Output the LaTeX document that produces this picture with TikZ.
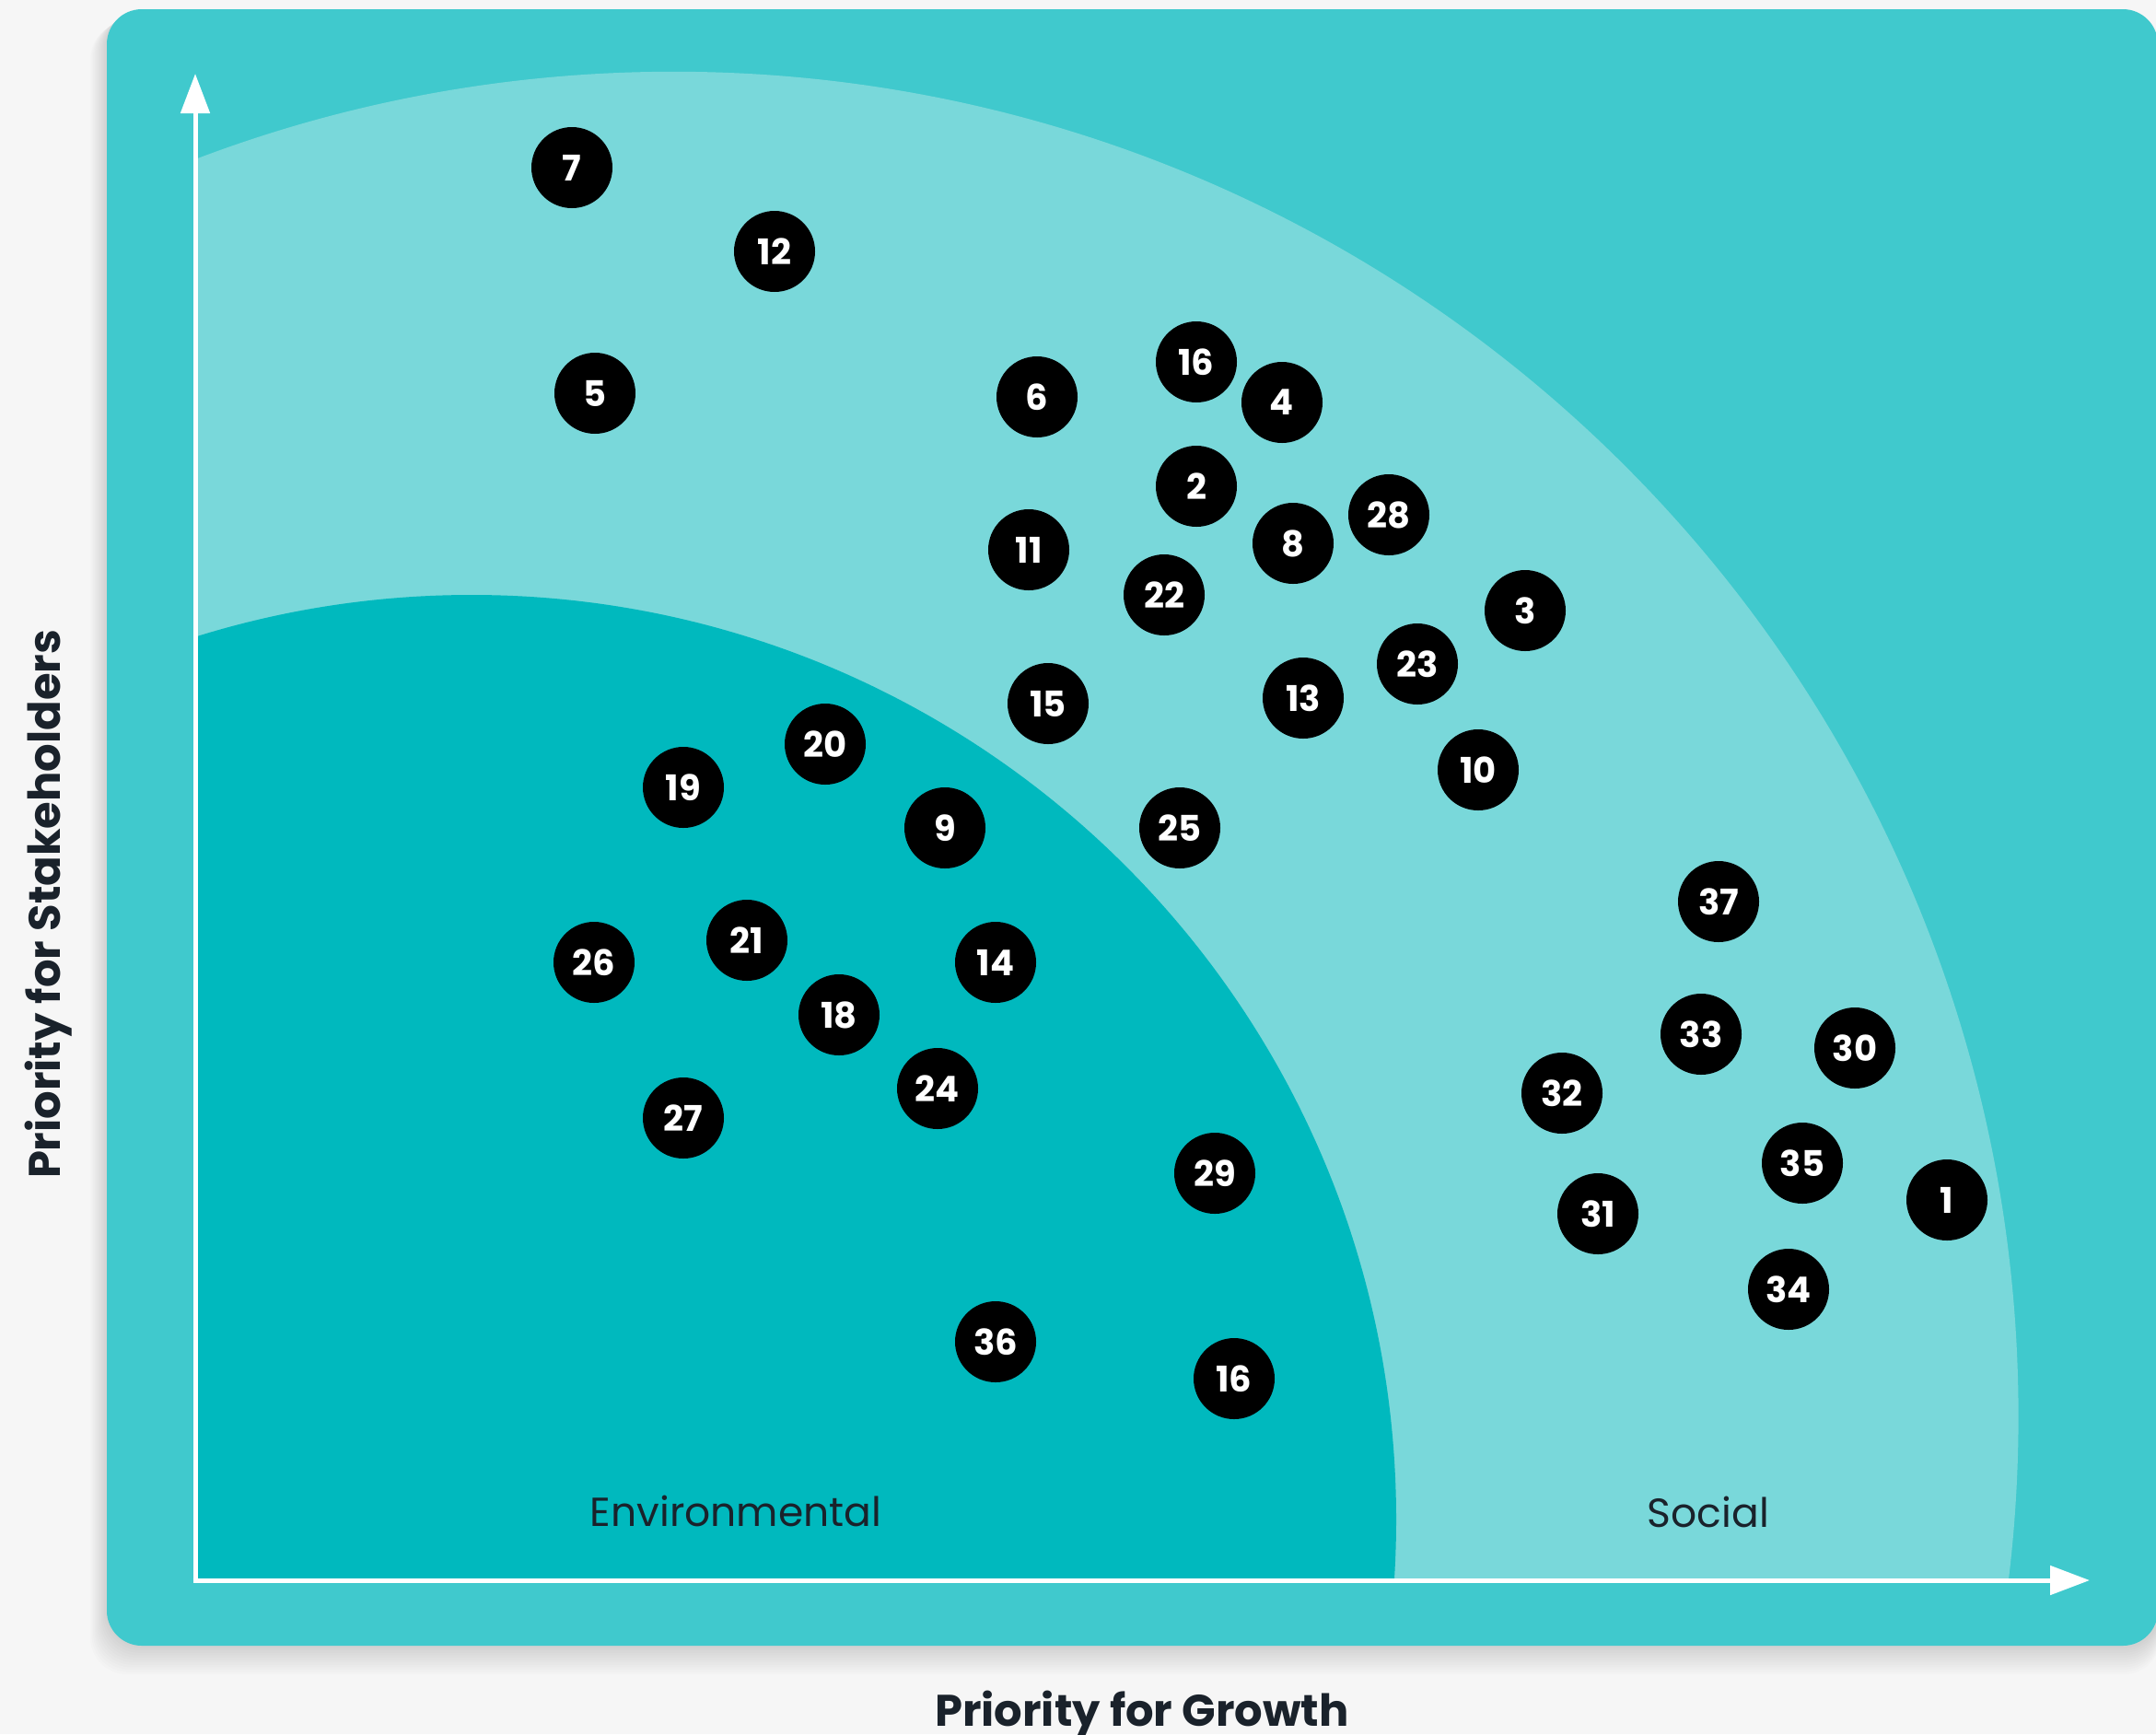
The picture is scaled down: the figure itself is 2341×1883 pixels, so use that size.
\documentclass[tikz,border=0pt]{standalone}
\usepackage{fontspec}
\setmainfont{Poppins}
\usetikzlibrary{arrows.meta}
\definecolor{bgc}{HTML}{F6F6F6}
\definecolor{outerc}{HTML}{40C9CD}
\definecolor{lightc}{HTML}{79D8DA}
\definecolor{darkc}{HTML}{00B9BE}
\definecolor{inkc}{HTML}{1A222B}
\tikzset{
  dot/.style={circle, fill=black, minimum size=88pt, inner sep=0pt, text=white,
    font=\fontsize{38.5}{38.5}\selectfont\bfseries},
  zonelabel/.style={text=inkc, font=\fontsize{44}{44}\selectfont, anchor=base, inner sep=0pt},
  axislabel/.style={text=inkc, font=\fontsize{48}{48}\selectfont\bfseries, anchor=base, inner sep=0pt},
  axisline/.style={draw=white, line width=5pt, -{Triangle[length=43pt,width=31pt]}},
}
\begin{document}
\begin{tikzpicture}[x=1pt,y=-1pt]
\useasboundingbox (0,0) rectangle (2341,1883);
\fill[bgc] (0,0) rectangle (2341,1883);
% soft shadow
\foreach \k in {1,...,12}{
  \fill[black, opacity=0.012, rounded corners=40pt]
    (116-\k*1.5, 10+\k*1.2) rectangle (2346, 1787+\k*2.6);
}
% board
\fill[outerc, rounded corners=38pt] (116,10) rectangle (2343,1787);
% zones
\begin{scope}
  \clip (212,0) rectangle (2341,1716);
  \fill[lightc] (731.6,1537.8) circle[radius=1460pt];
  \fill[darkc] (512,1650) circle[radius=1004pt];
\end{scope}
% axes
\coordinate (origin) at (212,1718);
\coordinate (ytip) at (212,80);
\coordinate (xtip) at (2269,1716);
\coordinate (xstart) at (209.5,1716);
\draw[axisline] (origin) -- (ytip);
\draw[axisline] (xstart) -- (xtip);
% labels
\node[zonelabel] (env) at (799,1657) {Environmental};
\node[zonelabel] (soc) at (1855,1658) {Social};
\node[axislabel] (xlab) at (1240,1874) {Priority for Growth};
\node[axislabel, rotate=90] (ylab) at (65,982) {Priority for Stakeholders};
% topics
\node[dot] (n7) at (621,182) {7};
\node[dot] (n12) at (841,273) {12};
\node[dot] (n5) at (646,427) {5};
\node[dot] (n6) at (1126,431) {6};
\node[dot] (n16a) at (1299,393) {16};
\node[dot] (n4) at (1392,437) {4};
\node[dot] (n2) at (1299,528) {2};
\node[dot] (n28) at (1508,559) {28};
\node[dot] (n8) at (1404,590) {8};
\node[dot] (n11) at (1117,597) {11};
\node[dot] (n22) at (1264,646) {22};
\node[dot] (n3) at (1656,663) {3};
\node[dot] (n23) at (1539,721) {23};
\node[dot] (n13) at (1415,758) {13};
\node[dot] (n15) at (1138,764) {15};
\node[dot] (n10) at (1605,836) {10};
\node[dot] (n20) at (896,808) {20};
\node[dot] (n19) at (742,855) {19};
\node[dot] (n9) at (1026,899) {9};
\node[dot] (n25) at (1281,899) {25};
\node[dot] (n37) at (1866,979) {37};
\node[dot] (n26) at (645,1045) {26};
\node[dot] (n21) at (811,1021) {21};
\node[dot] (n14) at (1081,1045) {14};
\node[dot] (n18) at (911,1102) {18};
\node[dot] (n33) at (1847,1123) {33};
\node[dot] (n30) at (2014,1138) {30};
\node[dot] (n32) at (1696,1187) {32};
\node[dot] (n24) at (1018,1182) {24};
\node[dot] (n27) at (742,1214) {27};
\node[dot] (n29) at (1319,1274) {29};
\node[dot] (n35) at (1957,1263) {35};
\node[dot] (n1) at (2114,1303) {1};
\node[dot] (n31) at (1735,1318) {31};
\node[dot] (n34) at (1942,1400) {34};
\node[dot] (n36) at (1081,1457) {36};
\node[dot] (n16b) at (1340,1497) {16};
\end{tikzpicture}
\end{document}
